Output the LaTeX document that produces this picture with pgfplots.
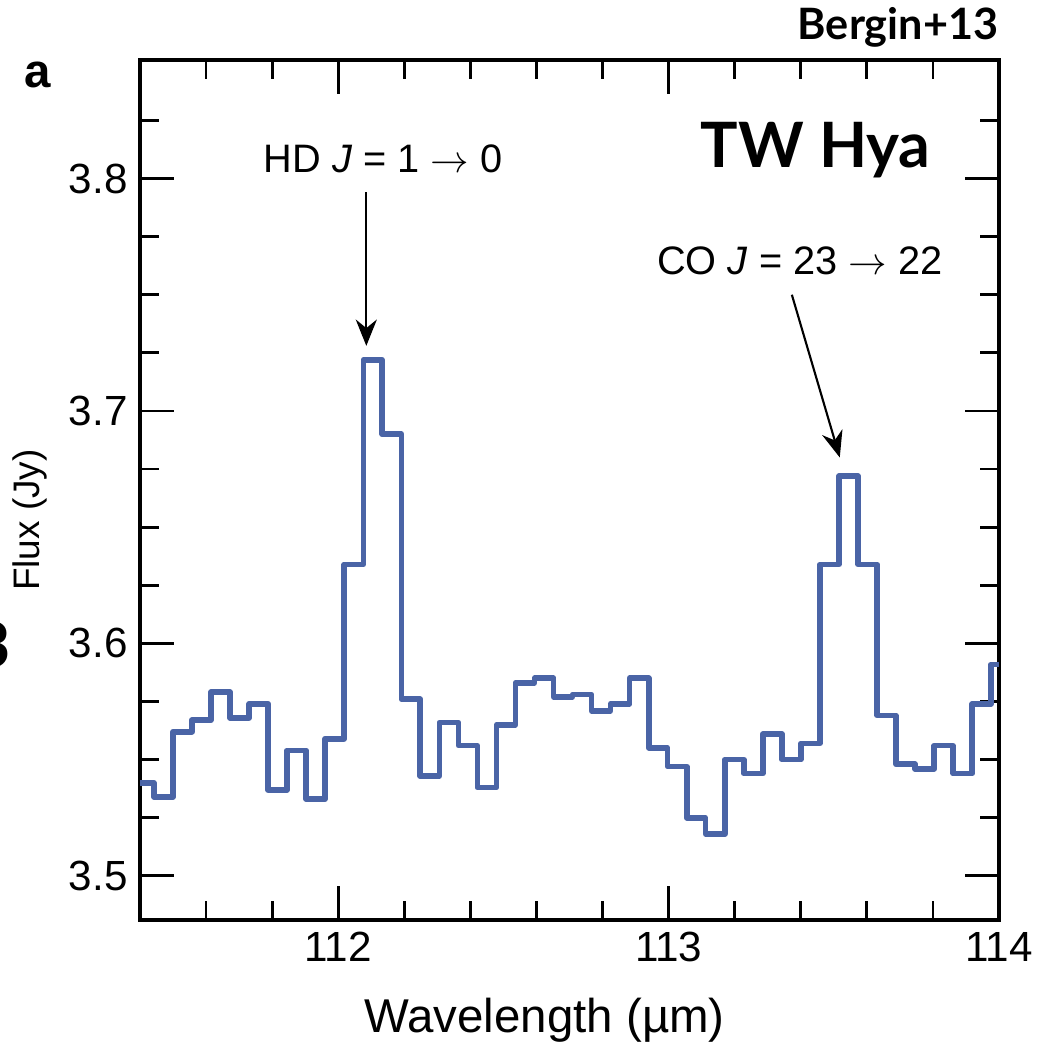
\documentclass[border=0pt]{standalone}
\usepackage{pgfplots}
\pgfplotsset{compat=1.18}
\usepackage{fontspec}
\setmainfont{Liberation Sans}
\newfontfamily\latofont{Lato}
\usetikzlibrary{arrows.meta}
\definecolor{specblue}{HTML}{4A64A6}
\begin{document}
\begin{tikzpicture}
\useasboundingbox (0,0) rectangle (10.48,10.51);
\begin{axis}[
  at={(1.40cm,1.31cm)}, anchor=south west, scale only axis,
  width=8.59cm, height=8.60cm,
  xmin=111.4, xmax=114, ymin=3.481, ymax=3.851,
  xtick={112,113,114},
  minor xtick={111.6,111.8,112.2,112.4,112.6,112.8,113.2,113.4,113.6,113.8},
  ytick={3.5,3.6,3.7,3.8},
  minor ytick={3.525,3.55,3.575,3.625,3.65,3.675,3.725,3.75,3.775,3.825},
  tick align=inside, major tick length=0.34cm, minor tick length=0.19cm,
  every tick/.style={black, line width=0.8pt},
  axis line style={line width=0.9pt},
  tick label style={font=\fontsize{12}{14}\selectfont},
  /pgf/number format/assume math mode=true,
  yticklabel style={/pgf/number format/.cd, fixed, fixed zerofill, precision=1},
  xticklabel style={/pgf/number format/1000 sep={}},
  xlabel={Wavelength (µm)},
  xlabel style={at={(axis description cs:0.471,-0.116)}, anchor=center, font=\fontsize{13.5}{16}\selectfont},
  ylabel={Flux (Jy)},
  ylabel style={at={(axis description cs:-0.128,0.465)}, anchor=center, font=\fontsize{10.5}{12}\selectfont},
]
\addplot[const plot, color=specblue, line width=1.6pt, line join=round] coordinates {
(111.4,3.540) (111.442,3.534) (111.500,3.562) (111.557,3.567) (111.615,3.579)
(111.672,3.568) (111.730,3.574) (111.788,3.537) (111.845,3.554) (111.903,3.533)
(111.960,3.559) (112.018,3.634) (112.076,3.722) (112.133,3.690) (112.191,3.576)
(112.248,3.543) (112.306,3.566) (112.364,3.556) (112.421,3.538) (112.479,3.565)
(112.536,3.583) (112.594,3.585) (112.652,3.577) (112.709,3.578) (112.767,3.571)
(112.824,3.574) (112.882,3.585) (112.940,3.555) (112.997,3.547) (113.055,3.525)
(113.112,3.518) (113.170,3.550) (113.228,3.544) (113.285,3.561) (113.343,3.550)
(113.400,3.557) (113.458,3.634) (113.516,3.672) (113.573,3.634) (113.631,3.569)
(113.688,3.548) (113.746,3.546) (113.804,3.556) (113.861,3.544) (113.919,3.574)
(113.976,3.591) (114.0,3.591)
};
\node[anchor=base, inner sep=0pt, font=\fontsize{11.3}{13}\selectfont] at (axis cs:112.136,3.8026) {HD \textit{J} = 1 $\rightarrow$ 0};
\node[anchor=base, inner sep=0pt, font=\fontsize{11.3}{13}\selectfont] at (axis cs:113.397,3.7586) {CO \textit{J} = 23 $\rightarrow$ 22};
\node[anchor=base, inner sep=0pt, font=\latofont\bfseries\fontsize{17.8}{20}\selectfont] at (axis cs:113.445,3.8047) {TW Hya};
\draw[-{Stealth[length=7.5pt,width=6pt]}, line width=0.6pt] (axis cs:112.085,3.794) -- (axis cs:112.085,3.728);
\draw[-{Stealth[length=7.5pt,width=6pt]}, line width=0.6pt] (axis cs:113.373,3.750) -- (axis cs:113.518,3.680);
\end{axis}
\node[anchor=base east, inner sep=0pt, font=\latofont\bfseries\fontsize{12.3}{14}\selectfont] at (9.99,10.11) {Bergin+13};
\node[anchor=base, inner sep=0pt, font=\bfseries\fontsize{13.5}{15}\selectfont] at (0.38,9.63) {a};
\node[inner sep=0pt, font=\latofont\bfseries\fontsize{17.8}{20}\selectfont] at (-0.07,4.06) {3};
\end{tikzpicture}
\end{document}
